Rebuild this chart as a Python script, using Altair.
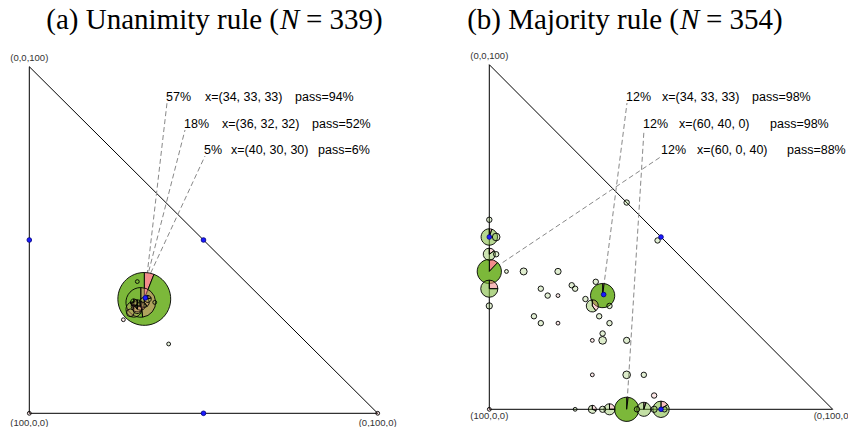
import math
import altair as alt
import pandas as pd

# ---------------- data ----------------
# Each offer x = (proposer, responder 1, responder 2); frequency of the offer (%) and pass rate (%)

# (a) Unanimity rule, N = 339
UNAN_P1 = [34, 36, 40, 38, 35, 37, 39, 42, 38, 33, 31, 32, 46, 40, 100, 0]
UNAN_P2 = [33, 32, 30, 31, 33, 32, 31, 29, 30, 34, 31, 36, 27, 40, 0, 100]
UNAN_P3 = [33, 32, 30, 31, 32, 31, 30, 29, 32, 33, 38, 32, 27, 20, 0, 0]
UNAN_SHARE = [57, 18, 5, 3, 2, 1.5, 1.5, 1.2, 1, 1, 0.3, 0.3, 0.3, 0.3, 0.3, 0.3]
UNAN_PASS = [94, 52, 6, 20, 60, 30, 10, 0, 30, 80, 100, 100, 0, 100, 0, 0]

# (b) Majority rule, N = 354
MAJ_P1 = [34, 60, 60, 65, 50, 50, 55, 55, 40, 65, 70, 48, 47, 50, 50, 70, 40, 40,
          67, 52, 45, 53, 50, 50, 40, 40, 32, 40, 35, 60, 60, 41, 40, 45, 45, 48,
          57, 49, 0, 2, 55, 47, 55, 50, 60, 75, 100]
MAJ_P2 = [33, 40, 0, 0, 0, 50, 45, 0, 30, 35, 30, 2, 33, 40, 10, 0, 20, 40,
          33, 48, 0, 2, 15, 17, 24, 25, 31, 28, 35, 13, 15, 32, 35, 33, 45, 48,
          43, 51, 40, 49, 5, 20, 20, 30, 30, 25, 0]
MAJ_P3 = [33, 0, 40, 35, 50, 0, 0, 45, 30, 0, 0, 50, 20, 10, 40, 30, 40, 20,
          0, 0, 55, 45, 35, 33, 36, 35, 37, 32, 30, 27, 25, 27, 25, 22, 10, 4,
          0, 0, 60, 49, 40, 33, 25, 20, 10, 0, 0]
MAJ_SHARE = [12, 12, 12, 6, 5.5, 5.5, 4, 3, 3, 2.5, 1.3, 1.2, 1.2, 1.2, 1, 0.8, 0.8, 0.8,
             0.8, 0.8, 0.6, 0.6, 0.6, 0.6, 0.6, 0.6, 0.6, 0.6, 0.6, 0.6, 0.6, 0.6, 0.6, 0.6, 0.6, 0.6,
             0.6, 0.6, 0.6, 0.6, 0.3, 0.3, 0.3, 0.3, 0.3, 0.3, 0.3]
MAJ_PASS = [98, 98, 88, 75, 95, 85, 95, 85, 60, 75, 70, 100, 100, 100, 100, 100, 100, 100,
            100, 100, 100, 100, 100, 100, 100, 100, 100, 100, 100, 100, 100, 100, 100, 100, 100, 0,
            100, 100, 100, 100, 100, 0, 0, 0, 0, 100, 0]

# Equal-split reference offers
REF_P2 = [0, 50, 50, 33.3]
REF_P3 = [50, 50, 0, 33.3]

# ---------------- layout ----------------
W, H = 424, 427
GREEN = "#7cb83a"
PINK = "#f28c8c"

# pixel origin of (100,0,0), pixels per percentage point, and vertex-label offsets, per panel
GEO_A = dict(x0=29.3, y0=413.3, sx=3.484, sy=3.466, dy=[-9, 10, 10])
GEO_B = dict(x0=65.3, y0=409.3, sx=3.434, sy=3.446, dy=[-9, 7, 7])

# labelled offers: (index, share text x, offer text x, pass text x, text y)
LABELS_A = [(0, 166, 205, 295, 97), (1, 184, 222, 312, 124), (2, 204, 231, 318, 150)]
LABELS_B = [(0, 202, 238, 328, 97), (1, 219, 255, 346, 124), (2, 237, 273, 363, 150)]

# title text before / after the italic N, and x of the N
TITLE_A = ("(a) Unanimity rule (", "= 339)", 279)
TITLE_B = ("(b) Majority rule (", "= 354)", 255)


def pie_frame(p1, p2, p3, share, passed):
    rows = []
    for i, (a, b, c, s, p) in enumerate(zip(p1, p2, p3, share, passed)):
        fail = (100 - p) / 100
        if fail > 0:
            rows.append(dict(i=i, b=b, c=c, share=s, part="fail", t0=0.0, t1=fail))
        if fail < 1:
            rows.append(dict(i=i, b=b, c=c, share=s, part="pass", t0=fail, t1=1.0))
    df = pd.DataFrame(rows)
    return df.sort_values(["share", "i"], ascending=[False, True], kind="stable").reset_index(drop=True)


def panel(p1, p2, p3, share, passed, geo, labels, title):
    xs = alt.Scale(domain=[-geo["x0"] / geo["sx"], (W - geo["x0"]) / geo["sx"]], nice=False, zero=False)
    ys = alt.Scale(domain=[(geo["y0"] - H) / geo["sy"], geo["y0"] / geo["sy"]], nice=False, zero=False)
    X = lambda f: alt.X(f"{f}:Q", scale=xs, axis=None)
    Y = lambda f: alt.Y(f"{f}:Q", scale=ys, axis=None)

    tri = alt.Chart(pd.DataFrame({"b": [0, 0, 100, 0], "c": [100, 0, 0, 100], "o": [0, 1, 2, 3]})).mark_line(
        color="black", strokeWidth=1
    ).encode(x=X("b"), y=Y("c"), order="o:Q")

    layers = [tri]

    # dashed leaders from the labels to the labelled pies
    for idx, sx_, ox_, px_, ty in labels:
        row = pd.DataFrame({"b": [p2[idx]], "c": [p3[idx]]})
        layers.append(
            alt.Chart(row).mark_rule(color="#888888", strokeWidth=1, strokeDash=[5, 3]).encode(
                x=X("b"), y=Y("c"), x2=alt.value(sx_ + 1), y2=alt.value(ty + 6)
            )
        )

    # pies: pink = share of votes failing, green = passing; fill strength follows offer frequency
    pies = alt.Chart(pie_frame(p1, p2, p3, share, passed)).mark_arc(stroke="black", strokeWidth=0.9).encode(
        x=X("b"),
        y=Y("c"),
        theta=alt.Theta("t0:Q", scale=alt.Scale(domain=[0, 1], range=[0, 2 * math.pi]), stack=False),
        theta2="t1:Q",
        radius=alt.Radius("share:Q", scale=alt.Scale(type="sqrt", domain=[0, 100], range=[0, 35], zero=True)),
        color=alt.Color("part:N", scale=alt.Scale(domain=["pass", "fail"], range=[GREEN, PINK]), legend=None),
        fillOpacity=alt.FillOpacity("share:Q", scale=alt.Scale(domain=[0, max(share)], range=[0.18, 1]),
                                    legend=None),
    )
    layers.append(pies)

    ref = alt.Chart(pd.DataFrame({"b": REF_P2, "c": REF_P3})).mark_point(
        filled=True, color="#1a1aff", size=22, stroke="#00007a", strokeWidth=0.8, opacity=1
    ).encode(x=X("b"), y=Y("c"))
    layers.append(ref)

    corners = pd.DataFrame({"b": [0, 0, 100], "c": [100, 0, 0],
                            "t": ["(0,0,100)", "(100,0,0)", "(0,100,0)"]})
    for k in range(3):
        layers.append(
            alt.Chart(corners.iloc[[k]]).mark_text(
                font="Liberation Sans", fontSize=9.5, color="#333333", dy=geo["dy"][k], clip=True
            ).encode(x=X("b"), y=Y("c"), text="t:N")
        )

    txt = dict(font="Liberation Sans", fontSize=12.5, color="black", align="left", baseline="middle")
    one = alt.Data(values=[{}])
    for idx, sx_, ox_, px_, ty in labels:
        parts = [(sx_, f"{share[idx]:g}%"), (ox_, f"x=({p1[idx]}, {p2[idx]}, {p3[idx]})"),
                 (px_, f"pass={passed[idx]}%")]
        for x_, s in parts:
            layers.append(alt.Chart(one).mark_text(text=s, **txt).encode(x=alt.value(x_), y=alt.value(ty)))

    left, right, xn = title
    ttl = dict(font="Liberation Serif", fontSize=29, color="black", baseline="alphabetic")
    layers.append(alt.Chart(one).mark_text(text=left, align="right", **ttl).encode(x=alt.value(xn), y=alt.value(29)))
    layers.append(alt.Chart(one).mark_text(text="N", align="left", fontStyle="italic", **ttl).encode(
        x=alt.value(xn + 1), y=alt.value(29)))
    layers.append(alt.Chart(one).mark_text(text=right, align="left", **ttl).encode(x=alt.value(xn + 27), y=alt.value(29)))

    return alt.layer(*layers).properties(width=W, height=H)


a = panel(UNAN_P1, UNAN_P2, UNAN_P3, UNAN_SHARE, UNAN_PASS, GEO_A, LABELS_A, TITLE_A)
b = panel(MAJ_P1, MAJ_P2, MAJ_P3, MAJ_SHARE, MAJ_PASS, GEO_B, LABELS_B, TITLE_B)

chart = (
    alt.hconcat(a, b, spacing=0, bounds="flush")
    .resolve_scale(fillOpacity="independent")
    .properties(padding=0, background="white")
    .configure_view(strokeWidth=0)
)

chart.save("out.html", embed_options={"renderer": "svg", "actions": False})
